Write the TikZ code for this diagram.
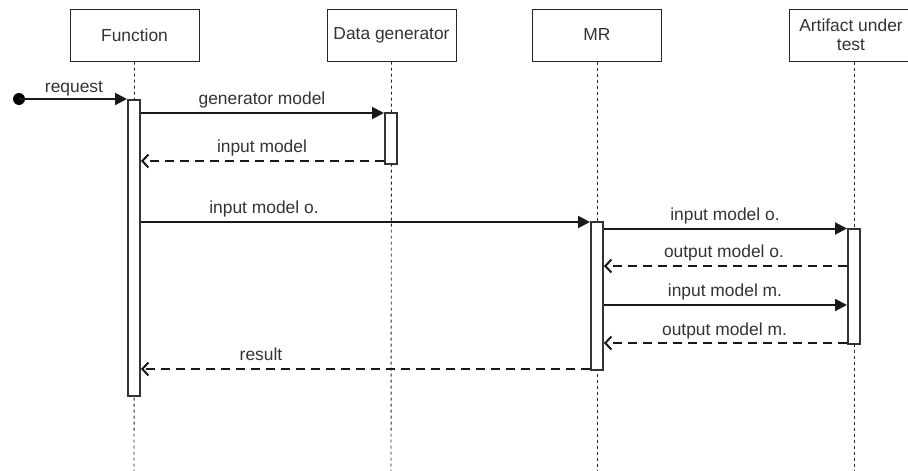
\documentclass[tikz,border=0pt]{standalone}
\usepackage{fontspec}
\setmainfont{Liberation Sans}
\usetikzlibrary{arrows.meta,calc}
\newcommand{\dfont}{\fontsize{17.4}{19}\selectfont}
\begin{document}
\begin{tikzpicture}[x=1pt,y=-1pt,
  head/.style={draw=black!85, line width=1pt, fill=white, minimum width=129pt, minimum height=52pt, inner sep=2pt, font=\dfont, text=black!80, align=center},
  life/.style={draw=black!85, line width=0.9pt, dash pattern=on 3pt off 3pt},
  act/.style={draw=black!80, line width=2pt, fill=white, minimum width=12pt, inner sep=0pt, anchor=north},
  msg/.style={draw=black!90, line width=2pt, -{Triangle[length=12pt,width=12pt]}},
  ret/.style={draw=black!90, line width=2pt, dash pattern=on 9pt off 6pt, -{Straight Barb[length=6pt,width=13pt]}},
  lbl/.style={font=\dfont, text=black!80, inner sep=0pt, anchor=base}]
\clip (0,0) rectangle (908,471);
\useasboundingbox (0,0) rectangle (908,471);
% heads
\node[head] (hf) at (134.5,35) {Function};
\node[head] (hd) at (391.5,35) {Data generator};
\node[head] (hm) at (597,35) {MR};
\node[head, minimum width=130pt] (ha) at (854,35) {};
\node[font=\dfont, text=black!80, align=center, inner sep=0pt] (hat) at (851,35) {Artifact under\\test};
% lifelines
\coordinate (ef) at (134,471);
\coordinate (ed) at (391,471);
\coordinate (em) at (597,471);
\coordinate (ea) at (854,471);
\draw[life] (hf.south) -- (ef);
\draw[life] (hd.south) -- (ed);
\draw[life] (hm.south) -- (em);
\draw[life] (ha.south) -- (ea);
% activations
\node[act, minimum height=296pt] (af) at (134,99) {};
\node[act, minimum height=51pt] (ad) at (391,112) {};
\node[act, minimum height=148pt] (am) at (597,221) {};
\node[act, minimum height=115pt] (aa) at (854,228) {};
% request
\coordinate (start) at (19,99);
\fill[black] (start) circle (6pt);
\draw[msg] (start) -- (af.north west);
\node[lbl] (lreq) at (74,92) {request};
% generator model
\coordinate (y1) at (0,113);
\draw[msg] (af.east |- y1) -- (ad.west |- y1);
\node[lbl] (l1) at (262,104) {generator model};
% input model
\coordinate (y2) at (0,161);
\draw[ret] (ad.west |- y2) -- (af.east |- y2);
\node[lbl] (l2) at (262,152) {input model};
% input model o.
\coordinate (y3) at (0,222);
\draw[msg] (af.east |- y3) -- (am.west |- y3);
\node[lbl] (l3) at (264,213) {input model o.};
% MR -> artifact
\coordinate (y4) at (0,228.5);
\draw[msg] (am.east |- y4) -- (aa.west |- y4);
\node[lbl] (l4) at (725,220) {input model o.};
\coordinate (y5) at (0,266);
\draw[ret] (aa.west |- y5) -- (am.east |- y5);
\node[lbl] (l5) at (724,257) {output model o.};
\coordinate (y6) at (0,305);
\draw[msg] (am.east |- y6) -- (aa.west |- y6);
\node[lbl] (l6) at (725,296) {input model m.};
\coordinate (y7) at (0,343);
\draw[ret] (aa.west |- y7) -- (am.east |- y7);
\node[lbl] (l7) at (724.5,335) {output model m.};
% result
\coordinate (y8) at (0,369);
\draw[ret] (am.west |- y8) -- (af.east |- y8);
\node[lbl] (l8) at (261,360) {result};
\end{tikzpicture}
\end{document}
